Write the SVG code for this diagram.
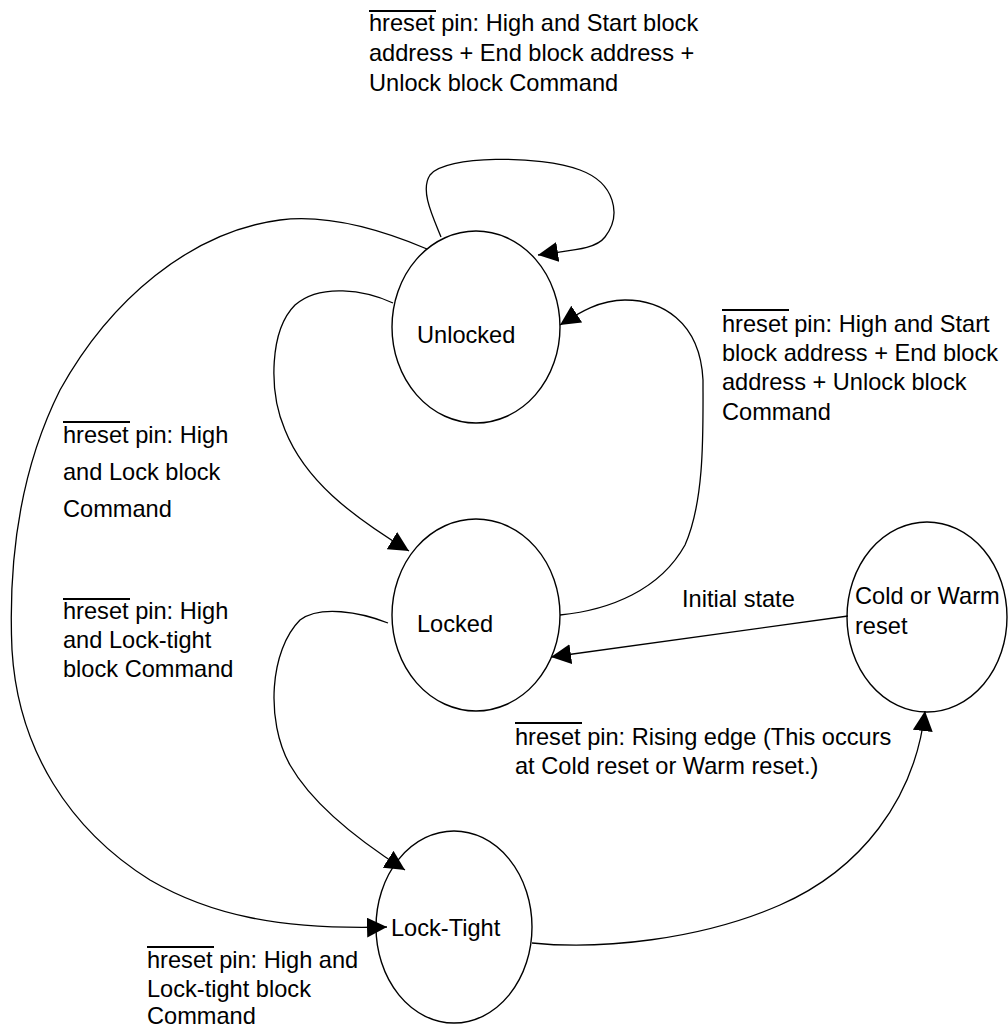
<svg xmlns="http://www.w3.org/2000/svg" width="1008" height="1028" viewBox="0 0 1008 1028">
<style>
  .node { fill: none; stroke: #000; stroke-width: 1.4; }
  .edge { fill: none; stroke: #000; stroke-width: 1.3; }
  text { font-family: "Liberation Sans", Arial, Helvetica, sans-serif; font-size: 23.6px; fill: #000; }
  .bar { stroke: #000; stroke-width: 2; }
</style>
<defs>
  <marker id="arr" markerUnits="userSpaceOnUse" viewBox="0 0 20 20" markerWidth="20" markerHeight="20" refX="20" refY="10" orient="auto">
    <path d="M0,0 L20,10 L0,20 z" fill="#000"/>
  </marker>
</defs>
<rect width="1008" height="1028" fill="#fff"/>

<g id="connectors">
  <path class="edge" marker-end="url(#arr)" d="M441,237 C432,215 420,190 430,175 C445,155 540,155 580,170 C615,183 622,215 605,237 C595,250 570,250 538,255"/>
  <path class="edge" marker-end="url(#arr)" d="M393,303 C365,290 320,283 295,305 C270,330 268,390 285,430 C305,480 350,515 409,551"/>
  <path class="edge" marker-end="url(#arr)" d="M560,615 C610,610 660,590 685,545 C705,500 703,430 703,380 C700,320 660,300 625,300 C600,300 580,312 560,325"/>
  <path class="edge" marker-end="url(#arr)" d="M388,623 C360,612 320,605 300,620 C270,650 265,720 290,765 C310,800 350,835 405,870"/>
  <path class="edge" marker-end="url(#arr)" d="M427,249 C370,225 320,215 280,220 C190,232 110,300 60,390 C20,470 8,560 12,650 C18,750 70,830 150,880 C210,915 280,930 387,927"/>
  <path class="edge" marker-end="url(#arr)" d="M848,616 L551,657"/>
  <path class="edge" marker-end="url(#arr)" d="M532,943 C600,950 700,940 780,905 C860,870 915,800 925,711"/>
</g>

<g id="node-unlocked">
  <ellipse class="node" cx="476" cy="327" rx="84" ry="96"/>
  <text x="417" y="343">Unlocked</text>
</g>
<g id="node-locked">
  <ellipse class="node" cx="476" cy="615" rx="84" ry="96"/>
  <text x="417" y="632">Locked</text>
</g>
<g id="node-locktight">
  <ellipse class="node" cx="454" cy="927" rx="78" ry="96"/>
  <text x="391" y="936">Lock-Tight</text>
</g>
<g id="node-reset">
  <ellipse class="node" cx="927" cy="617" rx="80" ry="95"/>
  <text x="855" y="604">Cold or Warm</text>
  <text x="855" y="634">reset</text>
</g>

<g id="labels">
  <g id="label-top">
    <line class="bar" x1="369" y1="11" x2="436" y2="11"/>
    <text x="369" y="31">hreset pin: High and Start block</text>
    <text x="369" y="61">address + End block address +</text>
    <text x="369" y="91">Unlock block Command</text>
  </g>
  <g id="label-right">
    <line class="bar" x1="722" y1="310" x2="789" y2="310"/>
    <text x="722" y="332">hreset pin: High and Start</text>
    <text x="722" y="361">block address + End block</text>
    <text x="722" y="390">address + Unlock block</text>
    <text x="722" y="420">Command</text>
  </g>
  <g id="label-lock">
    <line class="bar" x1="63" y1="422" x2="130" y2="422"/>
    <text x="63" y="443">hreset pin: High</text>
    <text x="63" y="480">and Lock block</text>
    <text x="63" y="517">Command</text>
  </g>
  <g id="label-locktight1">
    <line class="bar" x1="63" y1="599" x2="130" y2="599"/>
    <text x="63" y="619">hreset pin: High</text>
    <text x="63" y="648">and Lock-tight</text>
    <text x="63" y="677">block Command</text>
  </g>
  <g id="label-locktight2">
    <line class="bar" x1="147" y1="947" x2="214" y2="947"/>
    <text x="147" y="968">hreset pin: High and</text>
    <text x="147" y="997">Lock-tight block</text>
    <text x="147" y="1024">Command</text>
  </g>
  <g id="label-initial">
    <text x="682" y="607">Initial state</text>
  </g>
  <g id="label-rising">
    <line class="bar" x1="515" y1="723" x2="582" y2="723"/>
    <text x="515" y="745">hreset pin: Rising edge (This occurs</text>
    <text x="515" y="774">at Cold reset or Warm reset.)</text>
  </g>
</g>
</svg>
